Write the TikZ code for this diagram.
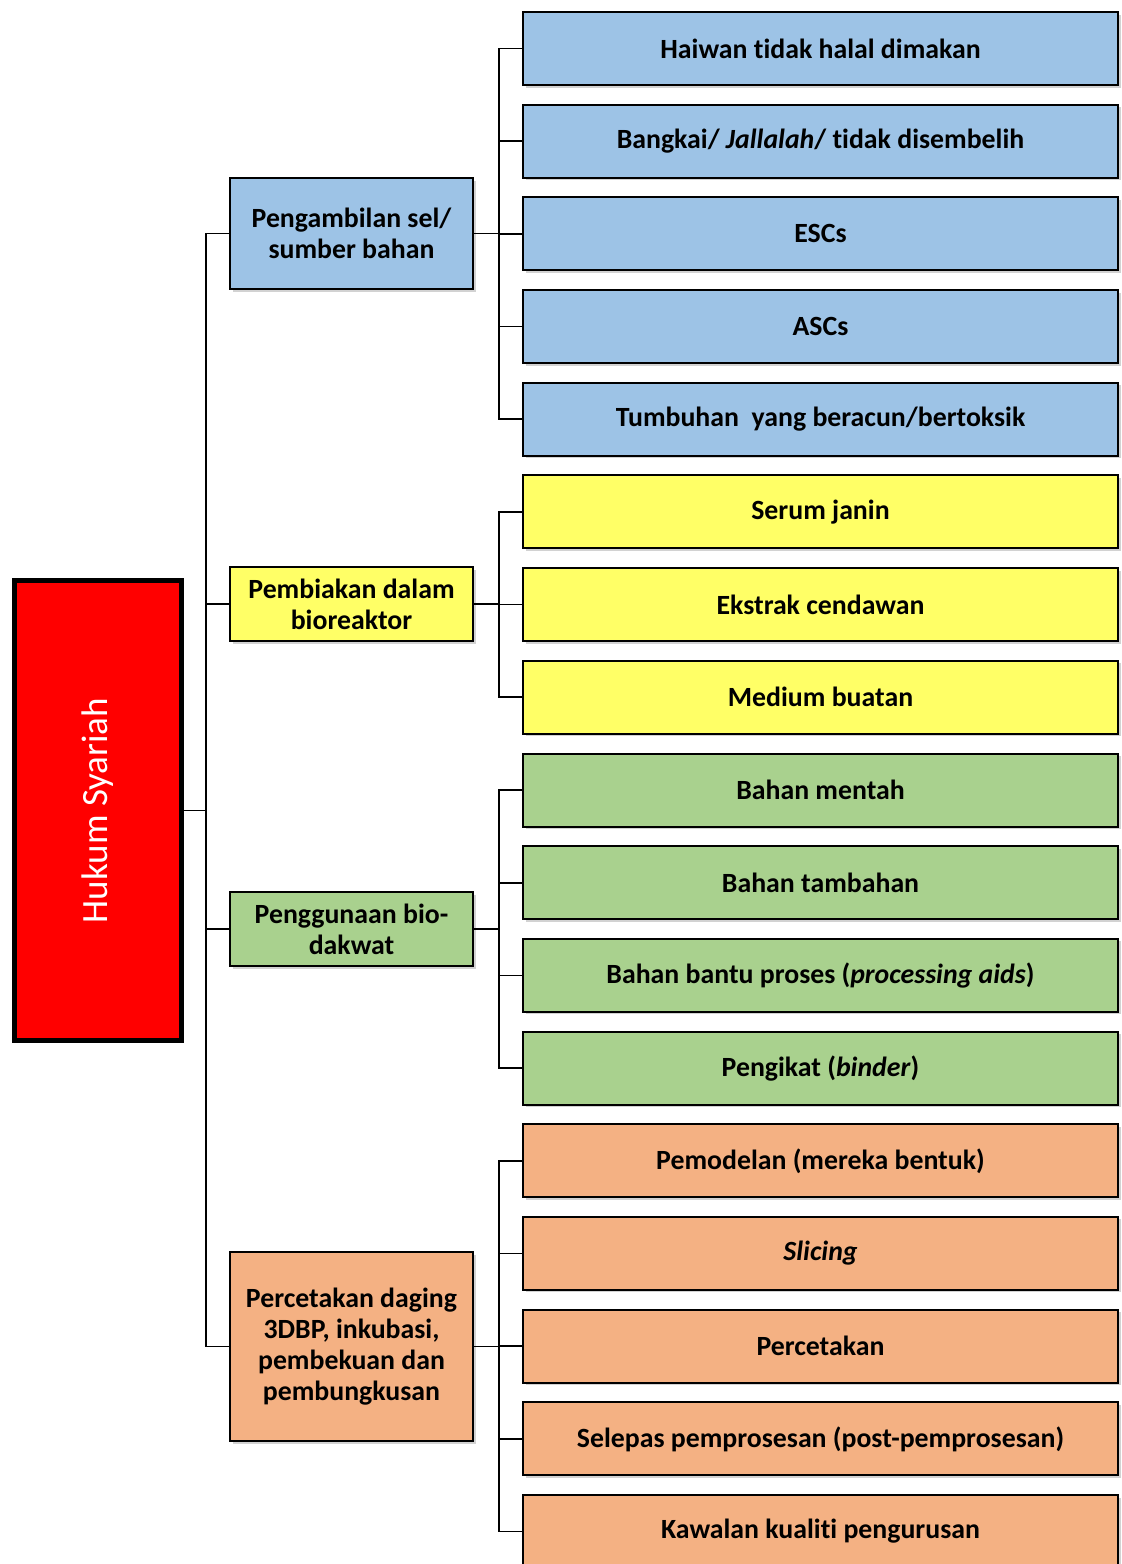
\documentclass[tikz,border=0pt]{standalone}
\usepackage{fontspec}
\setmainfont[Ligatures=NoCommon]{Carlito}
\usetikzlibrary{positioning,shadows}
\definecolor{biru}{RGB}{157,195,230}
\definecolor{kuning}{RGB}{255,255,102}
\definecolor{hijau}{RGB}{169,209,142}
\definecolor{oren}{RGB}{244,177,131}

\begin{document}
\begin{tikzpicture}[x=1pt,y=-1pt,
    kotak/.style={draw=black, line width=2pt, align=center, inner sep=2pt,
      font=\bfseries\fontsize{27.8}{31}\selectfont,
      drop shadow={shadow xshift=2.5pt,shadow yshift=-2.5pt,opacity=0.35}},
    daun/.style={kotak, minimum width=595pt, minimum height=73pt},
    cabang/.style={kotak, minimum width=243pt},
    garis/.style={line width=1.7pt}]
  \fill[white] (0,0) rectangle (1122,1564);
  \useasboundingbox (0,0) rectangle (1122,1564);

  % akar
  \node[kotak, fill=red, line width=4.5pt, rotate=90, minimum width=460pt, minimum height=167pt,
    font=\fontsize{37}{40}\selectfont, text=white] (hukum) at (98,810.5) {Hukum Syariah};

  % cabang tengah
  \node[cabang, fill=biru, minimum height=111pt] (ambil) at (351.5,233.5) {Pengambilan sel/\\ sumber bahan};
  \node[cabang, fill=kuning, minimum height=74pt] (biak) at (351.5,604) {Pembiakan dalam\\ bioreaktor};
  \node[cabang, fill=hijau, minimum height=74pt] (guna) at (351.5,929) {Penggunaan bio-\\dakwat};
  \node[cabang, fill=oren, minimum height=189pt] (cetak) at (351.5,1346.5) {Percetakan daging\\ 3DBP, inkubasi,\\ pembekuan dan\\ pembungkusan};

  % daun
  \foreach \teks [count=\i] in {Haiwan tidak halal dimakan, Bangkai/ \textit{Jallalah}/ tidak disembelih,
      ESCs, ASCs, Tumbuhan~ yang beracun/bertoksik}
    \node[daun, fill=biru] (d\i) at (820.5,{48.5+92.69*(\i-1)}) {\teks};
  \foreach \teks [count=\i from 6] in {Serum janin, Ekstrak cendawan, Medium buatan}
    \node[daun, fill=kuning] (d\i) at (820.5,{48.5+92.69*(\i-1)}) {\teks};
  \foreach \teks [count=\i from 9] in {Bahan mentah, Bahan tambahan,
      Bahan bantu proses (\textit{processing aids}), Pengikat (\textit{binder})}
    \node[daun, fill=hijau] (d\i) at (820.5,{48.5+92.69*(\i-1)}) {\teks};
  \foreach \teks [count=\i from 13] in {Pemodelan (mereka bentuk), \textit{Slicing}, Percetakan,
      Selepas pemprosesan (post-pemprosesan), Kawalan kualiti pengurusan}
    \node[daun, fill=oren] (d\i) at (820.5,{48.5+92.69*(\i-1)}) {\teks};

  % penyambung
  \foreach \c in {ambil,biak,guna,cetak}
    \draw[garis] (hukum.south) -- ++(22,0) |- (\c.west);
  \foreach \i in {1,...,5} \draw[garis] (ambil.east) -- ++(25,0) |- (d\i.west);
  \foreach \i in {6,7,8} \draw[garis] (biak.east) -- ++(25,0) |- (d\i.west);
  \foreach \i in {9,...,12} \draw[garis] (guna.east) -- ++(25,0) |- (d\i.west);
  \foreach \i in {13,...,17} \draw[garis] (cetak.east) -- ++(25,0) |- (d\i.west);
\end{tikzpicture}
\end{document}
